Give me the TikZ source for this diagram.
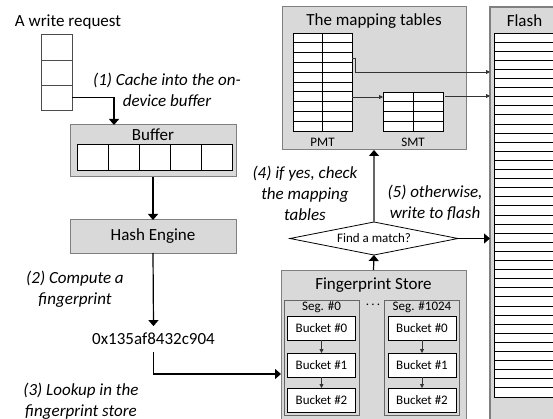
\documentclass[tikz,border=0pt]{standalone}
\usepackage{fontspec}
\setmainfont{Carlito}
\usetikzlibrary{shapes.geometric, arrows.meta, positioning, calc}
\definecolor{boxgray}{HTML}{D9D9D9}
\definecolor{edgegray}{HTML}{808080}

\begin{document}
\begin{tikzpicture}[x=1pt,y=-1pt,font=\fontsize{17}{21}\selectfont,
  inner sep=0pt,outer sep=0pt,
  panel/.style={draw=edgegray,fill=boxgray,line width=1pt},
  cell/.style={draw=black,fill=white,line width=0.9pt},
  lbl/.style={font=\fontsize{13}{15}\selectfont},
  note/.style={font=\fontsize{17}{21}\selectfont\itshape,align=center},
  arrow/.style={-{Triangle[width=10pt,length=6pt]},line width=1.2pt},
  link/.style={-{Triangle[width=4pt,length=4pt]},line width=0.8pt,draw=black!80}]
  \clip (0,0) rectangle (553,419);

  \node (req) at (68,22) {A write request};
  \node[cell,draw=black!70,minimum width=31pt,minimum height=26pt] (r1) at (56.5,47) {};
  \node[cell,draw=black!70,minimum width=31pt,minimum height=25pt,below=0pt of r1] (r2) {};
  \node[cell,draw=black!70,minimum width=31pt,minimum height=25pt,below=0pt of r2] (r3) {};
  \node[note] (n1) at (167,90) {(1) Cache into the on-\\device buffer};

  \node[panel,minimum width=166pt,minimum height=52pt] (buf) at (153,151) {};
  \node (buft) at (153,135) {Buffer};
  \foreach \i in {0,...,4}
    \node[cell,minimum width=31pt,minimum height=26pt] (b\i) at (92.5+31*\i,157) {};
  \coordinate (bin) at ($(buf.north west)+(44,0)$);
  \draw[arrow] (r3.east) -| (bin);

  \node[panel,minimum width=166pt,minimum height=33pt] (hash) at (153,236.5) {Hash Engine};
  \draw[arrow] (buf.south) -- (hash.north);

  \node[note] (n2) at (75,289) {(2) Compute a\\fingerprint};
  \node[inner ysep=7pt] (fp) at (153.5,339) {0x135af8432c904};
  \draw[arrow] (hash.south) -- (fp.north);
  \node[note] (n3) at (81,401) {(3) Lookup in the\\fingerprint store};

  \node[panel,minimum width=185pt,minimum height=160pt] (fs) at (373.5,350) {};
  \node (fst) at (373.5,285) {Fingerprint Store};
  \coordinate (fsin) at (fs.west |- 0,374);
  \draw[arrow] (fp.south) |- (fsin);
  \node[lbl] (dots) at (373,305) {.\,.\,.};
  \foreach \s/\x/\t in {0/321.5/{Seg. \#0},1/422/{Seg. \#1024}} {
    \node[panel,draw=black!60,minimum width=75pt,minimum height=115pt] (seg\s) at (\x,357.5) {};
    \node[lbl] (segt\s) at (\x,307) {\t};
    \foreach \b/\y in {0/328,1/365,2/400}
      \node[cell,lbl,minimum width=68pt,minimum height=24pt] (bk\s\b) at (\x,\y) {Bucket \#\b};
    \draw[link] (bk\s0.south) -- (bk\s1.north);
    \draw[link] (bk\s1.south) -- (bk\s2.north);
  }

  \node[diamond,draw,fill=white,line width=0.8pt,lbl,aspect=5,minimum width=168pt,minimum height=33pt] (dm) at (374,238.5) {Find a match?};
  \draw[arrow] (fs.north) -- (dm.south);

  \node[panel,minimum width=184pt,minimum height=143pt] (map) at (374,78.5) {};
  \node (mapt) at (374,21) {The mapping tables};
  \draw[arrow,draw=black!60,-{Triangle[width=10pt,length=6pt,color=black]}] (dm.north) -- (map.south);
  \node[note] (n4) at (305,193) {(4) if yes, check\\the mapping\\tables};
  \node[note] (n5) at (435,203) {(5) otherwise,\\write to flash};

  \node[cell,minimum width=59pt,minimum height=98pt] (pmt) at (322.5,82) {};
  \foreach \i in {1,...,9}
    \draw[line width=0.9pt] ($(pmt.north west)+(0,9.8*\i)$) -- ++(59,0);
  \draw[line width=0.9pt] (pmt.north) -- (pmt.south);
  \node[lbl] (pmtt) at (322.5,142) {PMT};
  \node[cell,minimum width=60pt,minimum height=39pt] (smt) at (413,111.5) {};
  \foreach \i in {1,...,3}
    \draw[line width=0.9pt] ($(smt.north west)+(0,9.75*\i)$) -- ++(60,0);
  \draw[line width=0.9pt] (smt.north) -- (smt.south);
  \node[lbl] (smtt) at (413,142) {SMT};

  \node[panel,line width=1.4pt,minimum width=70pt,minimum height=423pt] (fl) at (525,218.5) {};
  \node (flt) at (524.5,21) {Flash};
  \draw[cell] (494,33) rectangle (560,397);
  \foreach \i in {1,...,39}
    \draw[line width=0.9pt] (494,33+9.1*\i) -- ++(66,0);

  \coordinate (smtin) at ($(smt.north west)+(0,5)$);
  \draw[link] (pmt.east |- smtin) -- (smtin);
  \coordinate (fin1) at ($(fl.north west)+(0,65)$);
  \coordinate (fin2) at ($(fl.north west)+(0,89)$);
  \draw[link] ($(pmt.north east)+(0,25)$) -- ++(3,0) |- (fin1);
  \draw[link] ($(smt.east |- fin2)+(2,0)$) -- (fin2);
  \draw[arrow] (dm.east) -- (dm.east -| fl.west);
\end{tikzpicture}
\end{document}
